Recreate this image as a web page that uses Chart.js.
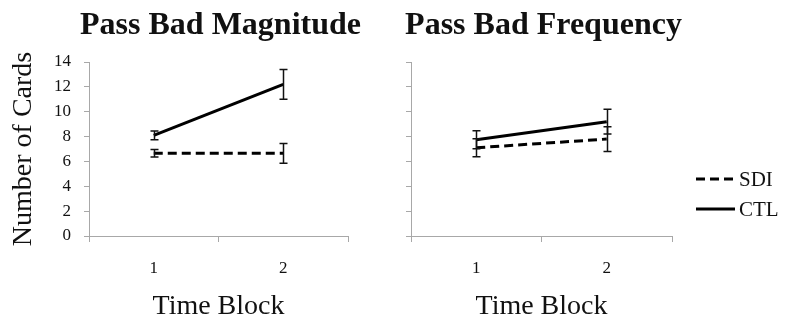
<!DOCTYPE html>
<html>
<head>
<meta charset="utf-8">
<script src="https://cdn.jsdelivr.net/npm/chart.js@4"></script>
<style>
  html, body { margin: 0; padding: 0; background: #fff; }
  #wrap { position: relative; width: 785px; height: 324px; overflow: hidden; }
  canvas { position: absolute; top: 0; }
  #c1 { left: 0; }
  #c2 { left: 380px; }
</style>
</head>
<body>
<div id="wrap">
  <canvas id="c1" width="380" height="324"></canvas>
  <canvas id="c2" width="405" height="324"></canvas>
</div>
<script>
// ---- data ----
const categories = ['1', '2'];
const seriesNames = ['SDI', 'CTL'];
const yTicks = [0, 2, 4, 6, 8, 10, 12, 14];

const magSDI = [6.65, 6.65];
const magSDIErr = [0.3, 0.8];
const magCTL = [8.1, 12.2];
const magCTLErr = [0.35, 1.2];

const freqSDI = [7.1, 7.8];
const freqSDIErr = [0.72, 1.0];
const freqCTL = [7.75, 9.2];
const freqCTLErr = [0.72, 1.0];

const titles = ['Pass Bad Magnitude', 'Pass Bad Frequency'];
const yTitle = 'Number of Cards';
const xTitle = 'Time Block';

// ---- styling ----
const SERIF = '"Liberation Serif", "Times New Roman", serif';
const TEXT = '#111111';
const AXIS = '#a8a8a8';
const DASH = [9, 5];

const errorBars = {
  id: 'errorBars',
  afterDatasetsDraw(chart) {
    const { ctx, scales: { x, y } } = chart;
    ctx.save();
    ctx.strokeStyle = '#111';
    ctx.lineWidth = 1.5;
    ctx.setLineDash([]);
    chart.data.datasets.forEach(ds => {
      ds.data.forEach((v, i) => {
        const e = ds.errors[i];
        const px = Math.round(x.getPixelForValue(i)) + 0.5;
        const t = y.getPixelForValue(v + e);
        const b = y.getPixelForValue(v - e);
        ctx.beginPath();
        ctx.moveTo(px, t); ctx.lineTo(px, b);
        ctx.moveTo(px - 4, t); ctx.lineTo(px + 4, t);
        ctx.moveTo(px - 4, b); ctx.lineTo(px + 4, b);
        ctx.stroke();
      });
    });
    ctx.restore();
  }
};

// chart title centred over the plot area, drawn without width compression
const panelTitle = {
  id: 'panelTitle',
  afterDraw(chart, args, opts) {
    const { ctx, chartArea } = chart;
    ctx.save();
    ctx.fillStyle = TEXT;
    ctx.font = 'bold 32px ' + SERIF;
    ctx.textAlign = 'center';
    ctx.textBaseline = 'middle';
    ctx.fillText(opts.text, (chartArea.left + chartArea.right) / 2 + 2, 26);
    ctx.restore();
  }
};

const sideLegend = {
  id: 'sideLegend',
  afterDraw(chart, args, opts) {
    if (!opts || !opts.show) return;
    const { ctx, chartArea } = chart;
    ctx.save();
    chart.data.datasets.forEach((ds, i) => {
      const y = chartArea.top + 117 + i * 30;
      const x0 = chartArea.right + 24;
      ctx.strokeStyle = '#000';
      ctx.lineWidth = 3;
      ctx.setLineDash(ds.borderDash || []);
      ctx.beginPath();
      ctx.moveTo(x0, y); ctx.lineTo(x0 + 39, y);
      ctx.stroke();
      ctx.setLineDash([]);
      ctx.fillStyle = TEXT;
      ctx.font = '21px ' + SERIF;
      ctx.textBaseline = 'middle';
      ctx.textAlign = 'left';
      ctx.fillText(ds.label, x0 + 43, y + 1);
    });
    ctx.restore();
  }
};

function makeChart(id, title, sdi, sdiErr, ctl, ctlErr, isLeft) {
  return new Chart(document.getElementById(id), {
    type: 'line',
    data: {
      labels: categories,
      datasets: [
        { label: seriesNames[0], data: sdi, errors: sdiErr, borderColor: '#000', borderWidth: 3,
          borderDash: DASH, pointRadius: 0, tension: 0, fill: false },
        { label: seriesNames[1], data: ctl, errors: ctlErr, borderColor: '#000', borderWidth: 3,
          pointRadius: 0, tension: 0, fill: false }
      ]
    },
    options: {
      responsive: false,
      animation: false,
      events: [],
      layout: { padding: { left: 0, top: 62, bottom: 0, right: isLeft ? 32 : 113 } },
      plugins: {
        legend: { display: false },
        tooltip: { enabled: false },
        title: { display: false },
        panelTitle: { text: title },
        sideLegend: { show: !isLeft }
      },
      scales: {
        x: {
          type: 'category',
          offset: true,
          grid: { display: true, offset: true, drawOnChartArea: false, drawTicks: true, tickLength: 6, color: AXIS },
          border: { display: true, color: AXIS, width: 1 },
          ticks: { color: TEXT, font: { family: SERIF, size: 17 }, padding: 16, maxRotation: 0 },
          title: { display: true, text: xTitle, color: TEXT, font: { family: SERIF, size: 28 }, padding: { top: 0, bottom: 1 } },
          afterFit: s => { s.height = 88; }
        },
        y: {
          min: 0, max: 14,
          afterBuildTicks: s => { s.ticks = yTicks.map(v => ({ value: v })); },
          grid: { display: true, drawOnChartArea: false, drawTicks: true, tickLength: 5, color: AXIS },
          border: { display: true, color: AXIS, width: 1 },
          ticks: { display: isLeft, color: TEXT, font: { family: SERIF, size: 17 }, padding: 13 },
          title: { display: isLeft, text: yTitle, color: TEXT, font: { family: SERIF, size: 28 }, padding: { top: 7, bottom: 0 } },
          afterFit: s => { s.width = isLeft ? 89 : 31; }
        }
      }
    },
    plugins: [errorBars, panelTitle, sideLegend]
  });
}

makeChart('c1', titles[0], magSDI, magSDIErr, magCTL, magCTLErr, true);
makeChart('c2', titles[1], freqSDI, freqSDIErr, freqCTL, freqCTLErr, false);
</script>
</body>
</html>
